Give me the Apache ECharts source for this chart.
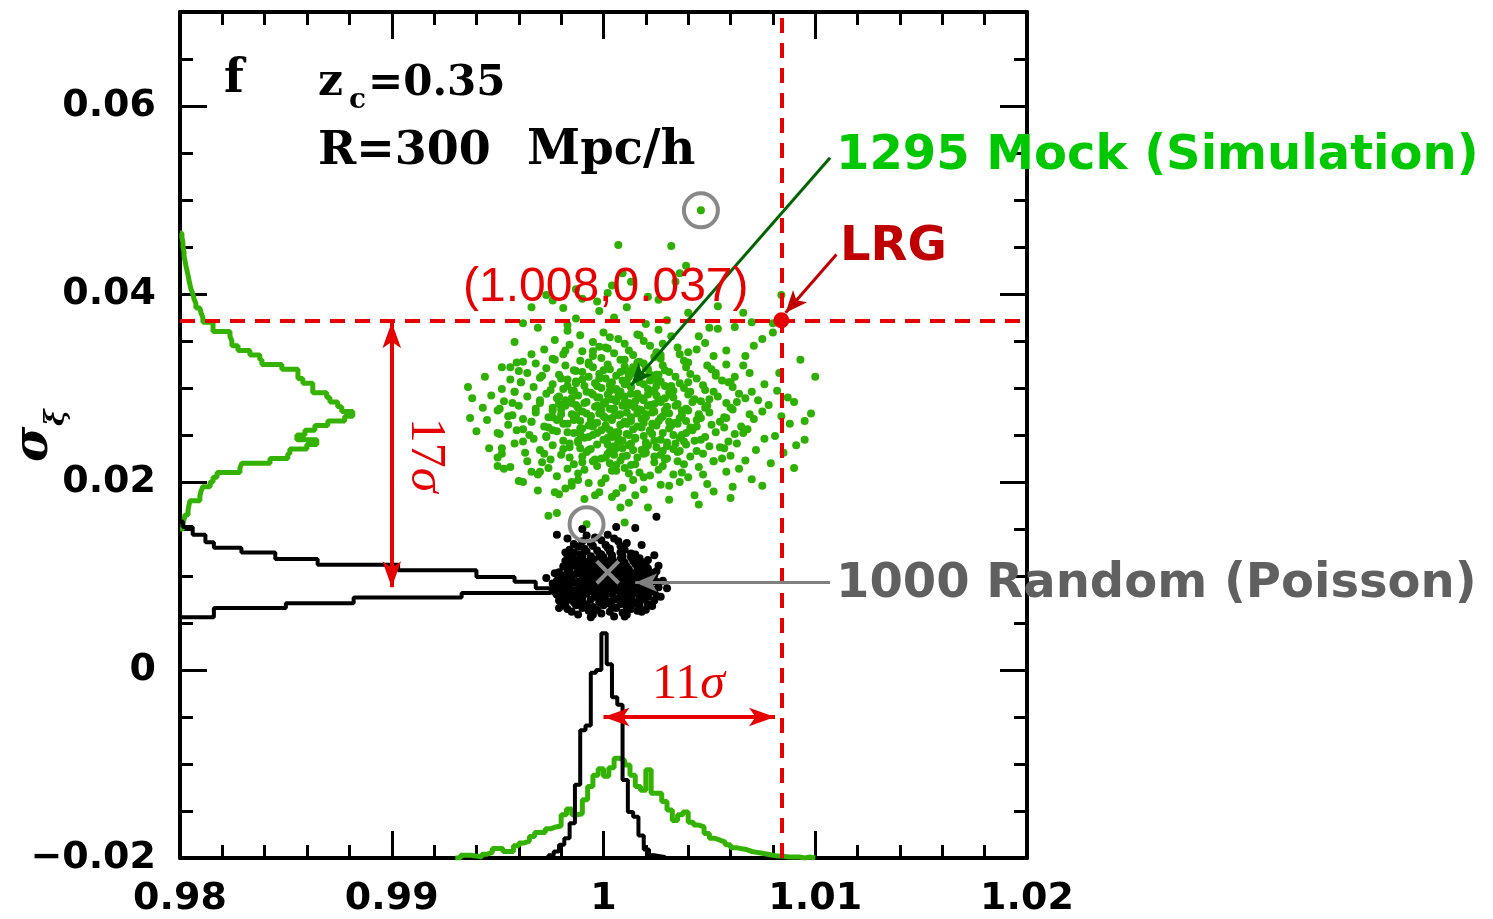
<!DOCTYPE html>
<html>
<head>
<meta charset="utf-8">
<title>sigma_xi vs xi ratio</title>
<script src="https://cdn.jsdelivr.net/npm/echarts/dist/echarts.min.js"></script>
<style>
html, body { margin: 0; padding: 0; background: #fff; }
#main { width: 1493px; height: 919px; }
</style>
</head>
<body>
<div id="main"></div>
<script>
// histogram heights are in units of 1e-4 (axis units)
var HIST_UNIT = 1e-4;

// left side histograms (along sigma_xi)
var mockLeftStart = 0.015, mockLeftBin = 0.0005;
var mockLeftH = [1.4,1.9,2.4,3.8,4.2,4.7,9.4,9.9,10.8,14.2,15.6,17.5,28.3,29.2,42.5,50.9,51.9,59.9,64.6,55.2,
                 59.0,63.7,69.8,77.8,81.6,76.4,74.5,70.8,69.3,62.7,62.7,58.0,55.7,55.7,48.1,38.7,37.7,33.0,27.4,24.5,
                 23.6,23.6,15.6,15.6,10.8,9.9,9.4,7.5,6.6,6.1,5.2,4.7,4.2,3.8,3.3,2.8,2.4,1.9,1.9,1.4,
                 1.4,0.9,0.9];
var randomLeftEdges = [0.0056,0.0066,0.0071,0.0077,0.0082,0.0087,0.0094,0.0099,0.0106,0.0112,0.0118,0.0125,0.0130,0.0136,0.0144,0.0152,0.0158];
var randomLeftH = [16,50,82,133,175,168,158,140,103,65,45,29,16,12,6,1.4];

// bottom histograms (along the x axis)
var mockBotStart = 0.993, mockBotBin = 0.00025;
var mockBotH = [0,3,3,2,1,4,6,10,10,7,7,13,16,18,23,27,27,31,33,34,46,52,46,47,62,76,88,95,87,96,
                106,104,99,88,76,72,94,69,69,60,51,40,46,49,38,35,33,26,21,19,17,14,11,10,9,7,6,5,4,3,
                2,2,1,1,1,0,1,0];
var randomBotStart = 0.9974, randomBotBin = 0.00025;
var randomBotH = [3,7,14,21,37,78,136,141,197,200,239,206,171,163,83,49,44,24,9,3,2,1];

// markers
var lrgPt = [[1.0084, 0.0372]];
var ringPts = [[1.0046, 0.0489], [0.9992, 0.0155]];
var crossPt = [[1.0002, 0.0104]];

// 1295 mock samples (subset)
var mockPts = [
[0.9991,0.0182],[1.0012,0.0178],[1.0031,0.0181],
[0.9979,0.0187],[1.0004,0.0184],[1.0043,0.0186],
[0.9969,0.0191],[0.9998,0.0189],[1.0019,0.0192],[1.0052,0.0190],
[0.9985,0.0196],[1.0009,0.0194],[1.0027,0.0197],[1.0061,0.0195],
[0.9960,0.0201],[0.9993,0.0199],[1.0014,0.0202],[1.0036,0.0200],[1.0049,0.0198],
[0.9978,0.0206],[1.0001,0.0204],[1.0022,0.0207],[1.0040,0.0205],[1.0070,0.0203],
[0.9966,0.0211],[0.9988,0.0209],[1.0006,0.0212],[1.0017,0.0210],[1.0033,0.0208],[1.0058,0.0211],
[0.9956,0.0216],[0.9983,0.0214],[0.9997,0.0217],[1.0010,0.0215],[1.0026,0.0213],[1.0045,0.0216],[1.0064,0.0214],
[0.9971,0.0221],[0.9986,0.0219],[0.9995,0.0222],[1.0003,0.0220],[1.0013,0.0218],[1.0024,0.0221],[1.0038,0.0219],[1.0052,0.0222],[1.0079,0.0220],
[0.9950,0.0226],[0.9975,0.0224],[0.9990,0.0227],[0.9999,0.0225],[1.0008,0.0223],[1.0016,0.0226],[1.0029,0.0224],[1.0041,0.0227],[1.0056,0.0225],[1.0067,0.0223],
[0.9963,0.0231],[0.9980,0.0229],[0.9992,0.0232],[1.0002,0.0230],[1.0011,0.0228],[1.0020,0.0231],[1.0027,0.0229],[1.0035,0.0232],[1.0047,0.0230],[1.0060,0.0228],[1.0085,0.0231],
[0.9946,0.0236],[0.9970,0.0234],[0.9984,0.0237],[0.9994,0.0235],[1.0003,0.0233],[1.0009,0.0236],[1.0018,0.0234],[1.0025,0.0237],[1.0033,0.0235],[1.0044,0.0233],[1.0057,0.0236],[1.0072,0.0234],
[0.9958,0.0241],[0.9976,0.0239],[0.9988,0.0242],[0.9997,0.0240],[1.0005,0.0238],[1.0013,0.0241],[1.0021,0.0239],[1.0030,0.0242],[1.0039,0.0240],[1.0050,0.0238],[1.0063,0.0241],[1.0091,0.0239],
[0.9967,0.0246],[0.9981,0.0244],[0.9991,0.0247],[1.0000,0.0245],[1.0007,0.0243],[1.0015,0.0246],[1.0024,0.0244],[1.0036,0.0247],[1.0046,0.0245],[1.0059,0.0243],[1.0076,0.0246],
[0.9951,0.0251],[0.9973,0.0249],[0.9986,0.0252],[0.9995,0.0250],[1.0004,0.0248],[1.0011,0.0251],[1.0019,0.0249],[1.0028,0.0252],[1.0037,0.0250],[1.0048,0.0248],[1.0062,0.0251],[1.0081,0.0249],
[0.9962,0.0256],[0.9978,0.0254],[0.9990,0.0257],[0.9999,0.0255],[1.0006,0.0253],[1.0014,0.0256],[1.0022,0.0254],[1.0031,0.0257],[1.0042,0.0255],[1.0053,0.0253],[1.0068,0.0256],[0.9940,0.0254],
[0.9955,0.0261],[0.9972,0.0259],[0.9983,0.0262],[0.9993,0.0260],[1.0001,0.0258],[1.0008,0.0261],[1.0016,0.0259],[1.0023,0.0262],[1.0032,0.0260],[1.0041,0.0258],[1.0051,0.0261],[1.0065,0.0259],[1.0088,0.0262],
[0.9945,0.0266],[0.9966,0.0264],[0.9979,0.0267],[0.9989,0.0265],[0.9997,0.0263],[1.0004,0.0266],[1.0010,0.0264],[1.0018,0.0267],[1.0026,0.0265],[1.0034,0.0263],[1.0044,0.0266],[1.0055,0.0264],[1.0071,0.0267],[1.0095,0.0265],
[0.9957,0.0271],[0.9974,0.0269],[0.9985,0.0272],[0.9994,0.0270],[1.0001,0.0268],[1.0007,0.0271],[1.0013,0.0269],[1.0020,0.0272],[1.0028,0.0270],[1.0036,0.0268],[1.0045,0.0271],[1.0057,0.0269],[1.0069,0.0272],[1.0084,0.0270],[0.9937,0.0268],
[0.9950,0.0276],[0.9968,0.0274],[0.9980,0.0277],[0.9990,0.0275],[0.9998,0.0273],[1.0005,0.0276],[1.0011,0.0274],[1.0017,0.0277],[1.0024,0.0275],[1.0031,0.0273],[1.0040,0.0276],[1.0050,0.0274],[1.0061,0.0277],[1.0075,0.0275],[1.0098,0.0273],
[0.9960,0.0281],[0.9976,0.0279],[0.9987,0.0282],[0.9996,0.0280],[1.0003,0.0278],[1.0009,0.0281],[1.0015,0.0279],[1.0022,0.0282],[1.0030,0.0280],[1.0039,0.0278],[1.0049,0.0281],[1.0060,0.0279],[1.0078,0.0282],[0.9943,0.0279],
[0.9953,0.0286],[0.9970,0.0284],[0.9982,0.0287],[0.9992,0.0285],[1.0000,0.0283],[1.0006,0.0286],[1.0012,0.0284],[1.0019,0.0287],[1.0027,0.0285],[1.0035,0.0283],[1.0046,0.0286],[1.0058,0.0284],[1.0073,0.0287],[1.0090,0.0285],
[0.9964,0.0291],[0.9978,0.0289],[0.9988,0.0292],[0.9997,0.0290],[1.0004,0.0288],[1.0010,0.0291],[1.0018,0.0289],[1.0025,0.0292],[1.0033,0.0290],[1.0043,0.0288],[1.0054,0.0291],[1.0067,0.0289],[0.9947,0.0292],
[0.9958,0.0296],[0.9973,0.0294],[0.9985,0.0297],[0.9994,0.0295],[1.0002,0.0293],[1.0008,0.0296],[1.0016,0.0294],[1.0023,0.0297],[1.0031,0.0295],[1.0040,0.0293],[1.0052,0.0296],[1.0064,0.0294],[1.0082,0.0297],
[0.9967,0.0301],[0.9981,0.0299],[0.9991,0.0302],[0.9999,0.0300],[1.0006,0.0298],[1.0013,0.0301],[1.0021,0.0299],[1.0029,0.0302],[1.0038,0.0300],[1.0048,0.0298],[1.0061,0.0301],[0.9952,0.0299],
[0.9961,0.0306],[0.9976,0.0304],[0.9987,0.0307],[0.9996,0.0305],[1.0003,0.0303],[1.0011,0.0306],[1.0019,0.0304],[1.0027,0.0307],[1.0036,0.0305],[1.0047,0.0303],[1.0059,0.0306],[1.0076,0.0304],
[0.9970,0.0311],[0.9983,0.0309],[0.9993,0.0312],[1.0001,0.0310],[1.0009,0.0308],[1.0017,0.0311],[1.0025,0.0309],[1.0034,0.0312],[1.0044,0.0310],[1.0056,0.0308],[0.9956,0.0309],
[0.9964,0.0316],[0.9979,0.0314],[0.9990,0.0317],[0.9998,0.0315],[1.0006,0.0313],[1.0014,0.0316],[1.0022,0.0314],[1.0031,0.0317],[1.0041,0.0315],[1.0053,0.0313],[1.0069,0.0316],
[0.9973,0.0321],[0.9986,0.0319],[0.9995,0.0322],[1.0003,0.0320],[1.0011,0.0318],[1.0020,0.0321],[1.0029,0.0319],[1.0039,0.0322],[1.0051,0.0320],[0.9960,0.0318],
[0.9968,0.0326],[0.9982,0.0324],[0.9993,0.0327],[1.0002,0.0325],[1.0010,0.0323],[1.0019,0.0326],[1.0028,0.0324],[1.0040,0.0327],[1.0058,0.0325],
[0.9976,0.0331],[0.9989,0.0329],[0.9999,0.0332],[1.0008,0.0330],[1.0017,0.0328],[1.0027,0.0331],[1.0038,0.0329],[0.9962,0.0328],
[0.9981,0.0336],[0.9995,0.0334],[1.0005,0.0337],[1.0014,0.0335],[1.0024,0.0333],[1.0036,0.0336],[1.0052,0.0334],
[0.9972,0.0341],[0.9990,0.0339],[1.0002,0.0342],[1.0012,0.0340],[1.0025,0.0338],[1.0044,0.0341],
[0.9984,0.0346],[0.9998,0.0344],[1.0010,0.0347],[1.0022,0.0345],[1.0035,0.0343],
[0.9977,0.0351],[0.9995,0.0349],[1.0007,0.0352],[1.0019,0.0350],[1.0048,0.0348],
[0.9989,0.0356],[1.0003,0.0354],[1.0016,0.0357],[1.0032,0.0355],
[0.9983,0.0361],[1.0000,0.0359],[1.0026,0.0362],
[1.0014,0.0234],[0.9985,0.0289],[1.0025,0.0314],[1.0001,0.0260],[1.0038,0.0243],[0.9995,0.0339],[1.0010,0.0285],[0.9972,0.0230],[1.0019,0.0205],[1.0004,0.0306],
[1.0029,0.0276],[0.9991,0.0213],[1.0016,0.0327],[0.9980,0.0272],[1.0023,0.0251],[1.0006,0.0188],[1.0033,0.0297],[0.9997,0.0281],[1.0012,0.0239],[0.9987,0.0318],
[1.0046,0.0268],[1.0002,0.0247],[1.0021,0.0293],[0.9976,0.0255],[1.0017,0.0356],[0.9993,0.0234],[1.0035,0.0222],[1.0008,0.0272],[0.9983,0.0302],[1.0025,0.0260],
[0.9998,0.0310],[1.0042,0.0285],[0.9966,0.0264],[1.0014,0.0281],[1.0006,0.0218],[1.0027,0.0335],[0.9989,0.0251],[1.0019,0.0230],[0.9995,0.0293],[1.0031,0.0264],
[1.0011,0.0262],[0.9988,0.0244],[1.0026,0.0288],[1.0003,0.0297],[0.9979,0.0283],[1.0037,0.0271],[1.0015,0.0219],[0.9994,0.0265],[1.0022,0.0308],[1.0007,0.0253],
[0.9984,0.0226],[1.0030,0.0238],[1.0013,0.0301],[0.9999,0.0276],[1.0041,0.0296],[0.9975,0.0298],[1.0020,0.0269],[1.0005,0.0229],[0.9990,0.0309],[1.0028,0.0217],
[1.0009,0.0244],[0.9981,0.0262],[1.0034,0.0281],[1.0000,0.0319],[1.0018,0.0258],[0.9992,0.0273],[1.0024,0.0227],[1.0012,0.0312],[0.9986,0.0297],[1.0039,0.0252],
[1.0004,0.0268],[0.9973,0.0248],[1.0016,0.0292],[1.0027,0.0245],[0.9996,0.0224],[1.0010,0.0330],[0.9982,0.0281],[1.0032,0.0302],[1.0007,0.0291],[0.9989,0.0257],
[1.0023,0.0274],[1.0044,0.0259],[0.9978,0.0266],[1.0015,0.0247],[1.0001,0.0285],[0.9993,0.0248],[1.0021,0.0320],[1.0036,0.0233],[0.9987,0.0271],[1.0012,0.0209],
[1.0029,0.0289],[0.9997,0.0302],[1.0006,0.0236],[0.9970,0.0287],[1.0018,0.0276],[1.0048,0.0279],[0.9984,0.0241],[1.0025,0.0302],[1.0003,0.0255],[0.9991,0.0284],
[1.0013,0.0265],[1.0033,0.0250],[0.9980,0.0310],[1.0008,0.0317],[1.0020,0.0237],[0.9995,0.0259],[1.0040,0.0306],[1.0011,0.0281],[0.9986,0.0266],[1.0027,0.0268],
[1.0002,0.0240],[0.9976,0.0276],[1.0017,0.0306],[1.0035,0.0262],[0.9992,0.0296],[1.0009,0.0227],[1.0024,0.0283],[0.9983,0.0253],[1.0014,0.0322],[1.0000,0.0270],
[1.0030,0.0225],[0.9989,0.0236],[1.0006,0.0299],[1.0043,0.0244],[0.9974,0.0258],[1.0019,0.0263],[0.9998,0.0290],[1.0026,0.0314],[1.0012,0.0250],[0.9985,0.0284],
[1.0037,0.0276],[1.0004,0.0212],[0.9994,0.0270],[1.0022,0.0255],[1.0015,0.0286],[0.9979,0.0291],[1.0008,0.0261],[1.0032,0.0293],[0.9990,0.0221],[1.0020,0.0242],
[1.0050,0.0288],[0.9968,0.0278],[1.0010,0.0304],[0.9997,0.0252],[1.0028,0.0233],[1.0005,0.0278],[0.9987,0.0305],[1.0039,0.0265],[1.0016,0.0273],[0.9981,0.0235],
[1.0024,0.0296],[1.0001,0.0226],[0.9993,0.0325],[1.0034,0.0241],[1.0013,0.0294],[0.9976,0.0269],[1.0021,0.0281],[1.0007,0.0246],[0.9988,0.0279],[1.0045,0.0272],
[0.9962,0.0243],[1.0055,0.0237],[0.9958,0.0296],[1.0060,0.0306],[0.9971,0.0313],[1.0052,0.0222],[0.9964,0.0222],[1.0058,0.0268],[0.9955,0.0270],[1.0063,0.0285],
[0.9969,0.0208],[1.0047,0.0208],[0.9977,0.0330],[1.0049,0.0324],[0.9950,0.0252],[1.0066,0.0252],[0.9985,0.0200],[1.0031,0.0196],[1.0001,0.0343],[1.0040,0.0338],
[0.9957,0.0284],[1.0070,0.0296],[0.9965,0.0250],[1.0057,0.0258],[0.9974,0.0215],[1.0053,0.0316],[0.9982,0.0340],[1.0028,0.0347],[0.9999,0.0199],[1.0037,0.0210],
[1.0046,0.0489],[1.0007,0.0452],[1.0032,0.0451],[1.0009,0.0422],[1.0039,0.0430],[1.0036,0.0422],[1.0013,0.0413],
[1.0004,0.0409],[1.0034,0.0413],[1.0002,0.0401],[0.9987,0.0405],[0.9973,0.0399],[1.0021,0.0397],[1.0026,0.0394],
[0.9976,0.0393],[0.9997,0.0392],[1.0084,0.0399],[0.9966,0.0386],[0.9981,0.0385],[1.0011,0.0386],[1.0054,0.0387],
[0.9998,0.0382],[1.0066,0.0380],[0.9987,0.0374],[0.9962,0.0369],[1.0070,0.0370],[0.9983,0.0367],[0.9969,0.0364],
[1.0062,0.0365],[1.0050,0.0364],[1.0054,0.0363],[1.0080,0.0359],[0.9958,0.0349],[1.0071,0.0345],[0.9966,0.0336],
[1.0067,0.0334],[0.9959,0.0327],[0.9952,0.0322],[0.9956,0.0322],[1.0066,0.0324],[0.9944,0.0312],[1.0062,0.0312],
[1.0100,0.0312],[1.0083,0.0316],[0.9936,0.0301],[0.9961,0.0306],[0.9938,0.0289],[0.9951,0.0278],[0.9962,0.0267],
[0.9959,0.0255],[0.9952,0.0236],[0.9952,0.0230],[0.9950,0.0217],[0.9953,0.0214],[0.9962,0.0200],[0.9970,0.0211],
[0.9977,0.0189],[0.9982,0.0193],[0.9988,0.0202],[0.9996,0.0186],[0.9974,0.0164],[0.9978,0.0167],[0.9992,0.0155],
[1.0010,0.0157],[1.0008,0.0173],[1.0021,0.0173],[1.0015,0.0186],[1.0045,0.0176],[1.0060,0.0183],[1.0075,0.0196],
[1.0090,0.0215],[1.0095,0.0245],[1.0087,0.0290],[1.0093,0.0330],[1.0040,0.0380],[1.0030,0.0372],[1.0045,0.0355],
[1.0075,0.0352],[1.0058,0.0340],[0.9990,0.0395],[1.0005,0.0375],[1.0020,0.0368],[1.0080,0.0369]
];

// 1000 random (Poisson) samples (subset)
var randomPts = [
[0.9994,0.0056],[1.0005,0.0057],
[0.9988,0.0059],[0.9999,0.0060],[1.0011,0.0059],
[0.9985,0.0062],[0.9993,0.0063],[1.0003,0.0062],[1.0009,0.0061],[1.0016,0.0063],
[0.9983,0.0065],[0.9990,0.0066],[0.9997,0.0064],[1.0006,0.0066],[1.0013,0.0065],[1.0020,0.0064],
[0.9980,0.0068],[0.9987,0.0069],[0.9995,0.0067],[1.0000,0.0069],[1.0004,0.0068],[1.0011,0.0067],[1.0017,0.0069],[1.0023,0.0068],
[0.9982,0.0071],[0.9986,0.0072],[0.9992,0.0070],[0.9998,0.0072],[1.0002,0.0071],[1.0008,0.0070],[1.0012,0.0072],[1.0015,0.0071],[1.0021,0.0070],
[0.9979,0.0074],[0.9984,0.0075],[0.9989,0.0073],[0.9994,0.0075],[0.9999,0.0074],[1.0003,0.0073],[1.0006,0.0075],[1.0010,0.0074],[1.0014,0.0073],[1.0019,0.0075],[1.0024,0.0074],
[0.9981,0.0077],[0.9986,0.0078],[0.9990,0.0076],[0.9996,0.0078],[1.0000,0.0077],[1.0005,0.0076],[1.0008,0.0078],[1.0013,0.0077],[1.0017,0.0076],[1.0021,0.0078],
[0.9978,0.0080],[0.9983,0.0081],[0.9988,0.0079],[0.9992,0.0081],[0.9997,0.0080],[1.0001,0.0079],[1.0004,0.0081],[1.0009,0.0080],[1.0012,0.0079],[1.0016,0.0081],[1.0020,0.0080],[1.0025,0.0079],
[0.9980,0.0083],[0.9985,0.0084],[0.9990,0.0082],[0.9994,0.0084],[0.9998,0.0083],[1.0002,0.0082],[1.0007,0.0084],[1.0010,0.0083],[1.0014,0.0082],[1.0018,0.0084],[1.0022,0.0083],
[0.9977,0.0086],[0.9982,0.0087],[0.9987,0.0085],[0.9991,0.0087],[0.9995,0.0086],[1.0000,0.0085],[1.0003,0.0087],[1.0006,0.0086],[1.0011,0.0085],[1.0015,0.0087],[1.0019,0.0086],[1.0024,0.0085],
[0.9979,0.0089],[0.9984,0.0090],[0.9989,0.0088],[0.9993,0.0090],[0.9997,0.0089],[1.0001,0.0088],[1.0005,0.0090],[1.0008,0.0089],[1.0012,0.0088],[1.0016,0.0090],[1.0021,0.0089],[1.0026,0.0088],
[0.9981,0.0092],[0.9986,0.0093],[0.9990,0.0091],[0.9994,0.0093],[0.9999,0.0092],[1.0003,0.0091],[1.0006,0.0093],[1.0010,0.0092],[1.0013,0.0091],[1.0018,0.0093],[1.0022,0.0092],
[0.9978,0.0095],[0.9983,0.0096],[0.9988,0.0094],[0.9992,0.0096],[0.9996,0.0095],[1.0000,0.0094],[1.0004,0.0096],[1.0007,0.0095],[1.0011,0.0094],[1.0015,0.0096],[1.0020,0.0095],[1.0025,0.0094],
[0.9980,0.0098],[0.9985,0.0099],[0.9990,0.0097],[0.9994,0.0099],[0.9998,0.0098],[1.0002,0.0097],[1.0005,0.0099],[1.0009,0.0098],[1.0013,0.0097],[1.0017,0.0099],[1.0022,0.0098],
[0.9982,0.0101],[0.9987,0.0102],[0.9991,0.0100],[0.9995,0.0102],[1.0000,0.0101],[1.0003,0.0100],[1.0007,0.0102],[1.0011,0.0101],[1.0015,0.0100],[1.0019,0.0102],[1.0024,0.0101],
[0.9979,0.0104],[0.9984,0.0105],[0.9989,0.0103],[0.9993,0.0105],[0.9997,0.0104],[1.0001,0.0103],[1.0005,0.0105],[1.0010,0.0104],[1.0014,0.0103],[1.0018,0.0105],[1.0022,0.0104],
[0.9983,0.0107],[0.9988,0.0108],[0.9992,0.0106],[0.9996,0.0108],[1.0000,0.0107],[1.0004,0.0106],[1.0008,0.0108],[1.0012,0.0107],[1.0017,0.0106],[1.0021,0.0108],
[0.9981,0.0110],[0.9986,0.0111],[0.9991,0.0109],[0.9995,0.0111],[0.9999,0.0110],[1.0003,0.0109],[1.0007,0.0111],[1.0011,0.0110],[1.0016,0.0109],[1.0020,0.0111],
[0.9984,0.0113],[0.9989,0.0114],[0.9994,0.0112],[0.9998,0.0114],[1.0002,0.0113],[1.0006,0.0112],[1.0010,0.0114],[1.0015,0.0113],[1.0019,0.0112],
[0.9982,0.0116],[0.9987,0.0117],[0.9992,0.0115],[0.9997,0.0117],[1.0001,0.0116],[1.0005,0.0115],[1.0009,0.0117],[1.0014,0.0116],[1.0018,0.0115],
[0.9985,0.0119],[0.9990,0.0120],[0.9995,0.0118],[1.0000,0.0120],[1.0004,0.0119],[1.0008,0.0118],[1.0013,0.0120],[1.0017,0.0119],
[0.9983,0.0122],[0.9989,0.0123],[0.9994,0.0121],[0.9999,0.0123],[1.0004,0.0122],[1.0009,0.0121],[1.0015,0.0123],
[0.9986,0.0125],[0.9992,0.0126],[0.9998,0.0124],[1.0003,0.0126],[1.0008,0.0125],[1.0013,0.0124],
[0.9984,0.0128],[0.9991,0.0129],[0.9997,0.0127],[1.0003,0.0129],[1.0010,0.0128],
[0.9988,0.0131],[0.9995,0.0132],[1.0002,0.0130],[1.0008,0.0132],
[0.9986,0.0134],[0.9994,0.0135],[1.0001,0.0133],[1.0011,0.0135],
[0.9990,0.0137],[0.9999,0.0138],[1.0007,0.0137],
[0.9983,0.0140],[0.9996,0.0141],[1.0005,0.0140],
[0.9992,0.0143],[1.0002,0.0144],
[0.9978,0.0144],[1.0015,0.0151],[1.0025,0.0163],[1.0024,0.0122],[1.0026,0.0111],[0.9977,0.0103],[0.9976,0.0092],
[0.9977,0.0083],[0.9979,0.0066],[0.9995,0.0059],[1.0010,0.0057],[1.0018,0.0062],[1.0027,0.0078],[1.0028,0.0095],
[1.0025,0.0105],[1.0021,0.0117],[0.9982,0.0125],[1.0018,0.0133],[0.9990,0.0150],[1.0006,0.0152],[0.9973,0.0098],
[1.0030,0.0087]
];

function binEdges(start, bin, n) {
    var e = [];
    for (var i = 0; i <= n; i++) e.push(+(start + i * bin).toFixed(6));
    return e;
}
// horizontal histogram hanging off the left axis
function leftSteps(edges, h) {
    var pts = [[0.98, edges[0]]];
    for (var i = 0; i < h.length; i++) {
        var x = 0.98 + h[i] * HIST_UNIT;
        pts.push([x, edges[i]], [x, edges[i + 1]]);
    }
    pts.push([0.98, edges[h.length]]);
    return pts;
}
// vertical histogram standing on the bottom axis
function bottomSteps(edges, h) {
    var pts = [[edges[0], -0.02]];
    for (var i = 0; i < h.length; i++) {
        var y = -0.02 + h[i] * HIST_UNIT;
        pts.push([edges[i], y], [edges[i + 1], y]);
    }
    pts.push([edges[h.length], -0.02]);
    return pts;
}

var RED = '#e60000';
var tickLabel = { fontFamily: 'DejaVu Sans', fontWeight: 'bold', fontSize: 38, color: '#000' };
function fmtY(v) {
    if (v > 0.0699) return '';
    return String(+v.toFixed(4)).replace('-', '\u2212');
}
function fmtX(v) {
    return String(+v.toFixed(4));
}
function yAx(pos, interval, len, withLine, withLabel) {
    return {
        type: 'value', position: pos, min: -0.02, max: 0.07, interval: interval,
        axisLine: { show: withLine, onZero: false, lineStyle: { color: '#000', width: 4 } },
        axisTick: { show: true, inside: true, length: len, lineStyle: { color: '#000', width: 3 } },
        axisLabel: withLabel ? Object.assign({ margin: 24, formatter: fmtY }, tickLabel) : { show: false },
        splitLine: { show: false }
    };
}
function xAx(pos, withLabel) {
    return {
        type: 'value', position: pos, min: 0.98, max: 1.02, interval: 0.01,
        axisLine: { show: true, onZero: false, lineStyle: { color: '#000', width: 4 } },
        axisTick: { show: true, inside: true, length: 27, lineStyle: { color: '#000', width: 3 } },
        minorTick: { show: true, splitNumber: 5, length: 13, lineStyle: { color: '#000', width: 3 } },
        axisLabel: withLabel ? Object.assign({ margin: 22, formatter: fmtX, hideOverlap: false }, tickLabel) : { show: false },
        splitLine: { show: false }
    };
}
function arrowLine(color, width, from, to, sym, size) {
    return {
        type: 'line', data: [], silent: true, z: 6,
        markLine: {
            silent: true, animation: false, symbol: sym, symbolSize: size, precision: 5,
            label: { show: false }, emphasis: { disabled: true },
            lineStyle: { color: color, width: width, type: 'solid' },
            data: [[{ coord: from }, { coord: to }]]
        }
    };
}

var chart = echarts.init(document.getElementById('main'));
var option = {
    animation: false,
    backgroundColor: '#fff',
    grid: { left: 180, right: 466, top: 12, bottom: 61, containLabel: false, outerBoundsMode: 'none' },
    xAxis: [xAx('bottom', true), xAx('top', false)],
    yAxis: [yAx('left', 0.02, 27, true, true), yAx('left', 0.005, 13, false, false),
            yAx('right', 0.02, 27, true, false), yAx('right', 0.005, 13, false, false)],
    series: [
        { name: 'mock', type: 'scatter', data: mockPts, symbolSize: 8, z: 2, silent: true,
          itemStyle: { color: '#2eb000', opacity: 1 } },
        { name: 'random', type: 'scatter', data: randomPts, symbolSize: 8, z: 2, silent: true,
          itemStyle: { color: '#000', opacity: 1 } },
        { name: 'mockLeft', type: 'line', data: leftSteps(binEdges(mockLeftStart, mockLeftBin, mockLeftH.length), mockLeftH),
          showSymbol: false, z: 3, silent: true, lineStyle: { color: '#33b300', width: 5 } },
        { name: 'mockBottom', type: 'line', data: bottomSteps(binEdges(mockBotStart, mockBotBin, mockBotH.length), mockBotH),
          showSymbol: false, z: 3, silent: true, lineStyle: { color: '#33b300', width: 5 } },
        { name: 'randomLeft', type: 'line', data: leftSteps(randomLeftEdges, randomLeftH),
          showSymbol: false, z: 4, silent: true, lineStyle: { color: '#000', width: 4 } },
        { name: 'randomBottom', type: 'line', data: bottomSteps(binEdges(randomBotStart, randomBotBin, randomBotH.length), randomBotH),
          showSymbol: false, z: 4, silent: true, lineStyle: { color: '#000', width: 4 } },
        { name: 'lrgLines', type: 'line', data: [], z: 5, silent: true,
          markLine: { silent: true, animation: false, symbol: 'none', precision: 5, label: { show: false },
              lineStyle: { color: RED, width: 4, type: [15, 10] },
              data: [{ yAxis: lrgPt[0][1] }, { xAxis: lrgPt[0][0] }] } },
        arrowLine('#006400', 3, [1.0107, 0.0545], [1.0013, 0.0303], ['none', 'arrow'], [14, 22]),
        arrowLine('#c00000', 3, [1.0110, 0.0442], [1.0086, 0.0380], ['none', 'arrow'], [14, 22]),
        arrowLine('#808080', 3, [1.0107, 0.0093], [1.0015, 0.0093], ['none', 'arrow'], [14, 22]),
        arrowLine(RED, 4, [0.99, 0.0088], [0.99, 0.0370], ['arrow', 'arrow'], [14, 26]),
        arrowLine(RED, 4, [1.0, -0.005], [1.0081, -0.005], ['arrow', 'arrow'], [14, 26]),
        { name: 'rings', type: 'scatter', data: ringPts, symbolSize: 34, z: 7, silent: true,
          itemStyle: { color: 'rgba(0,0,0,0)', borderColor: '#888', borderWidth: 4, opacity: 1 } },
        { name: 'center', type: 'scatter', data: crossPt, symbol: 'path://M0,0L10,10M10,0L0,10', symbolSize: 22, z: 7, silent: true,
          itemStyle: { color: 'none', borderColor: '#8a8a8a', borderWidth: 4, opacity: 1 } },
        { name: 'LRG', type: 'scatter', data: lrgPt, symbolSize: 16, z: 7, silent: true,
          itemStyle: { color: RED, opacity: 1 } }
    ],
    graphic: [
        { type: 'text', x: 224, y: 80, z: 10, style: { text: 'f', fontFamily: 'DejaVu Serif', fontWeight: 'bold', fontSize: 46, fill: '#000', verticalAlign: 'middle' } },
        { type: 'text', x: 318, y: 84, z: 10, style: { text: 'z', fontFamily: 'DejaVu Serif', fontWeight: 'bold', fontSize: 44, fill: '#000', verticalAlign: 'middle' } },
        { type: 'text', x: 349, y: 101, z: 10, style: { text: 'c', fontFamily: 'DejaVu Serif', fontWeight: 'bold', fontSize: 28, fill: '#000', verticalAlign: 'middle' } },
        { type: 'text', x: 368, y: 84, z: 10, style: { text: '=0.35', fontFamily: 'DejaVu Serif', fontWeight: 'bold', fontSize: 42, fill: '#000', verticalAlign: 'middle' } },
        { type: 'text', x: 318, y: 152, z: 10, style: { text: 'R=300', fontFamily: 'DejaVu Serif', fontWeight: 'bold', fontSize: 46, fill: '#000', verticalAlign: 'middle' } },
        { type: 'text', x: 527, y: 152, z: 10, style: { text: 'Mpc/h', fontFamily: 'DejaVu Serif', fontWeight: 'bold', fontSize: 48, fill: '#000', verticalAlign: 'middle' } },
        { type: 'text', x: 836, y: 157, z: 10, style: { text: '1295 Mock (Simulation)', fontFamily: 'DejaVu Sans', fontWeight: 'bold', fontSize: 48, fill: '#00c800', verticalAlign: 'middle' } },
        { type: 'text', x: 840, y: 248, z: 10, style: { text: 'LRG', fontFamily: 'DejaVu Sans', fontWeight: 'bold', fontSize: 48, fill: '#c00000', verticalAlign: 'middle' } },
        { type: 'text', x: 463, y: 288, z: 10, style: { text: '(1.008,0.037)', fontFamily: 'Liberation Sans', fontSize: 48, fill: RED, verticalAlign: 'middle' } },
        { type: 'text', x: 836, y: 585, z: 10, style: { text: '1000 Random (Poisson)', fontFamily: 'DejaVu Sans', fontWeight: 'bold', fontSize: 48, fill: '#606060', verticalAlign: 'middle' } },
        { type: 'text', x: 652, y: 685, z: 10, style: {
            text: '{a|11}{b|\u03c3}', verticalAlign: 'middle',
            rich: { a: { fontFamily: 'Liberation Serif', fontSize: 50, fill: RED, color: RED },
                    b: { fontFamily: 'Liberation Serif', fontStyle: 'italic', fontSize: 50, fill: RED, color: RED } } } },
        { type: 'group', x: 425, y: 455, rotation: -Math.PI / 2, z: 10, children: [
            { type: 'text', x: 0, y: 0, style: {
                text: '{a|17}{b|\u03c3}', align: 'center', verticalAlign: 'middle',
                rich: { a: { fontFamily: 'Liberation Serif', fontSize: 50, fill: RED, color: RED },
                        b: { fontFamily: 'Liberation Serif', fontStyle: 'italic', fontSize: 50, fill: RED, color: RED } } } }
        ] },
        { type: 'group', x: 35, y: 462, rotation: Math.PI / 2, z: 10, children: [
            { type: 'text', x: 0, y: 0, style: { text: '\u03c3', fontFamily: 'DejaVu Serif', fontWeight: 'bold', fontStyle: 'italic', fontSize: 48, fill: '#000', align: 'left', verticalAlign: 'middle' } },
            { type: 'text', x: 36, y: 22, style: { text: '\u03be', fontFamily: 'DejaVu Serif', fontWeight: 'bold', fontStyle: 'italic', fontSize: 28, fill: '#000', align: 'left', verticalAlign: 'middle' } }
        ] }
    ]
};
chart.setOption(option);
</script>
</body>
</html>
